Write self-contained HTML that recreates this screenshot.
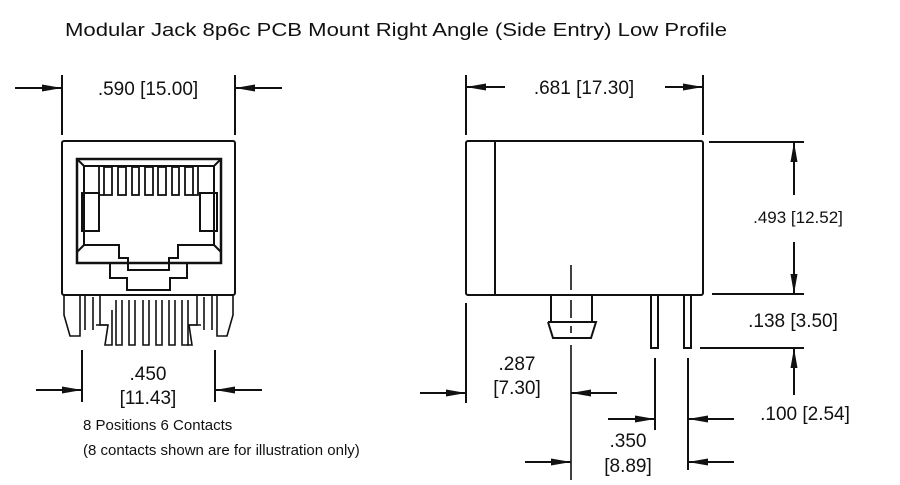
<!DOCTYPE html>
<html><head><style>html,body{margin:0;padding:0;background:#fff}svg{display:block}text{font-family:"Liberation Sans",Arial,sans-serif;fill:#111}</style></head>
<body>
<svg width="900" height="485" viewBox="0 0 900 485" xmlns="http://www.w3.org/2000/svg">
<defs>
<marker id="a" viewBox="0 0 20 8" refX="20" refY="4" markerWidth="20" markerHeight="8" markerUnits="userSpaceOnUse" orient="auto"><path d="M0,0.5L20,4L0,7.5z" fill="#111"/></marker>
</defs>
<text x="65" y="36" font-size="18" textLength="662" lengthAdjust="spacingAndGlyphs">Modular Jack 8p6c PCB Mount Right Angle (Side Entry) Low Profile</text>
<g stroke="#111" stroke-width="2" fill="none">
<!-- front view -->
<line x1="62" y1="75" x2="62" y2="135"/><line x1="235" y1="75" x2="235" y2="135"/>
<line x1="15" y1="88" x2="62" y2="88" marker-end="url(#a)"/><line x1="282" y1="88" x2="235" y2="88" marker-end="url(#a)"/>
<rect x="62" y="141" width="173" height="154" rx="2"/>
<rect x="77" y="159" width="144" height="104" stroke-width="2.5"/>
<polyline points="77,159 84,166 214,166 221,159"/>
<polyline points="84,166 84,245 119,245 119,258 128,258 128,270 169,270 169,258 178,258 178,245 214,245 214,166"/>
<polyline points="77,263 110,263 110,278 127,278 127,290 170,290 170,278 187,278 187,263 221,263"/>
<line x1="84" y1="245" x2="77" y2="252"/><line x1="214" y1="245" x2="221" y2="252"/>
<rect x="82" y="193" width="17" height="38"/><rect x="200" y="193" width="17" height="38"/>
<g stroke-width="1.8">
<rect x="104" y="167" width="8" height="28"/><rect x="118" y="167" width="8" height="28"/>
<rect x="132" y="167" width="7" height="28"/><rect x="145" y="167" width="8" height="28"/>
<rect x="158" y="167" width="8" height="28"/><rect x="172" y="167" width="7" height="28"/>
<rect x="185" y="167" width="8" height="28"/>
<path d="M99,167V195H104M193,195H198V167"/>
</g>
<!-- legs -->
<g stroke-width="1.6">
<path d="M64,295V315L70,336H80V295M85,295V330M93,297V330M100,295V325L108,325L105,345H112V310M116,300V345H122V300M129,300V345H135V300M143,300V345H149V300M156,300V345H162V300M169,300V345H175V300M182,300V345H188V300"/>
<path d="M233,295V315L227,336H217V295M212,295V330M204,297V330M197,295V325L189,325L192,345H187"/>
<path d="M108,325L96,325M189,325L201,325"/>
</g>
<line x1="82" y1="350" x2="82" y2="402"/><line x1="215" y1="350" x2="215" y2="402"/>
<line x1="36" y1="390" x2="82" y2="390" marker-end="url(#a)"/><line x1="262" y1="390" x2="215" y2="390" marker-end="url(#a)"/>
<!-- side view -->
<line x1="466" y1="75" x2="466" y2="135"/><line x1="703" y1="75" x2="703" y2="135"/>
<line x1="505" y1="87" x2="466" y2="87" marker-end="url(#a)"/><line x1="665" y1="87" x2="703" y2="87" marker-end="url(#a)"/>
<rect x="466" y="141" width="237" height="154" rx="2"/>
<line x1="495" y1="141" x2="495" y2="295"/>
<path d="M551,295V322M592,295V322M548,322H596L591,338H553L548,322"/>
<path d="M571,265V290M571,300V318M571,326V333M571,345V480" stroke-width="1.6"/>
<rect x="651" y="295" width="7" height="53"/><rect x="684" y="295" width="7" height="53"/>
<line x1="466" y1="303" x2="466" y2="403"/>
<line x1="420" y1="393" x2="466" y2="393" marker-end="url(#a)"/><line x1="617" y1="393" x2="571" y2="393" marker-end="url(#a)"/>
<line x1="655" y1="358" x2="655" y2="430"/><line x1="688" y1="358" x2="688" y2="470"/>
<line x1="608" y1="419" x2="655" y2="419" marker-end="url(#a)"/><line x1="734" y1="419" x2="688" y2="419" marker-end="url(#a)"/>
<line x1="525" y1="462" x2="571" y2="462" marker-end="url(#a)"/><line x1="734" y1="462" x2="688" y2="462" marker-end="url(#a)"/>
<!-- right dims -->
<line x1="709" y1="142" x2="804" y2="142"/><line x1="712" y1="294" x2="804" y2="294"/><line x1="700" y1="348" x2="804" y2="348"/>
<line x1="794" y1="195" x2="794" y2="142" marker-end="url(#a)"/>
<line x1="794" y1="242" x2="794" y2="294" marker-end="url(#a)"/>
<line x1="794" y1="395" x2="794" y2="348" marker-end="url(#a)"/>
</g>
<g font-size="19" text-anchor="middle">
<text x="148" y="95">.590 [15.00]</text>
<text x="148" y="380">.450</text>
<text x="148" y="404">[11.43]</text>
<text x="584" y="94">.681 [17.30]</text>
<text x="798" y="223" font-size="17">.493 [12.52]</text>
<text x="793" y="327">.138 [3.50]</text>
<text x="805" y="420">.100 [2.54]</text>
<text x="517" y="370">.287</text>
<text x="517" y="394">[7.30]</text>
<text x="628" y="447">.350</text>
<text x="628" y="472">[8.89]</text>
</g>
<text x="83" y="430" font-size="15">8 Positions 6 Contacts</text>
<text x="83" y="455" font-size="15">(8 contacts shown are for illustration only)</text>
</svg>
</body></html>
